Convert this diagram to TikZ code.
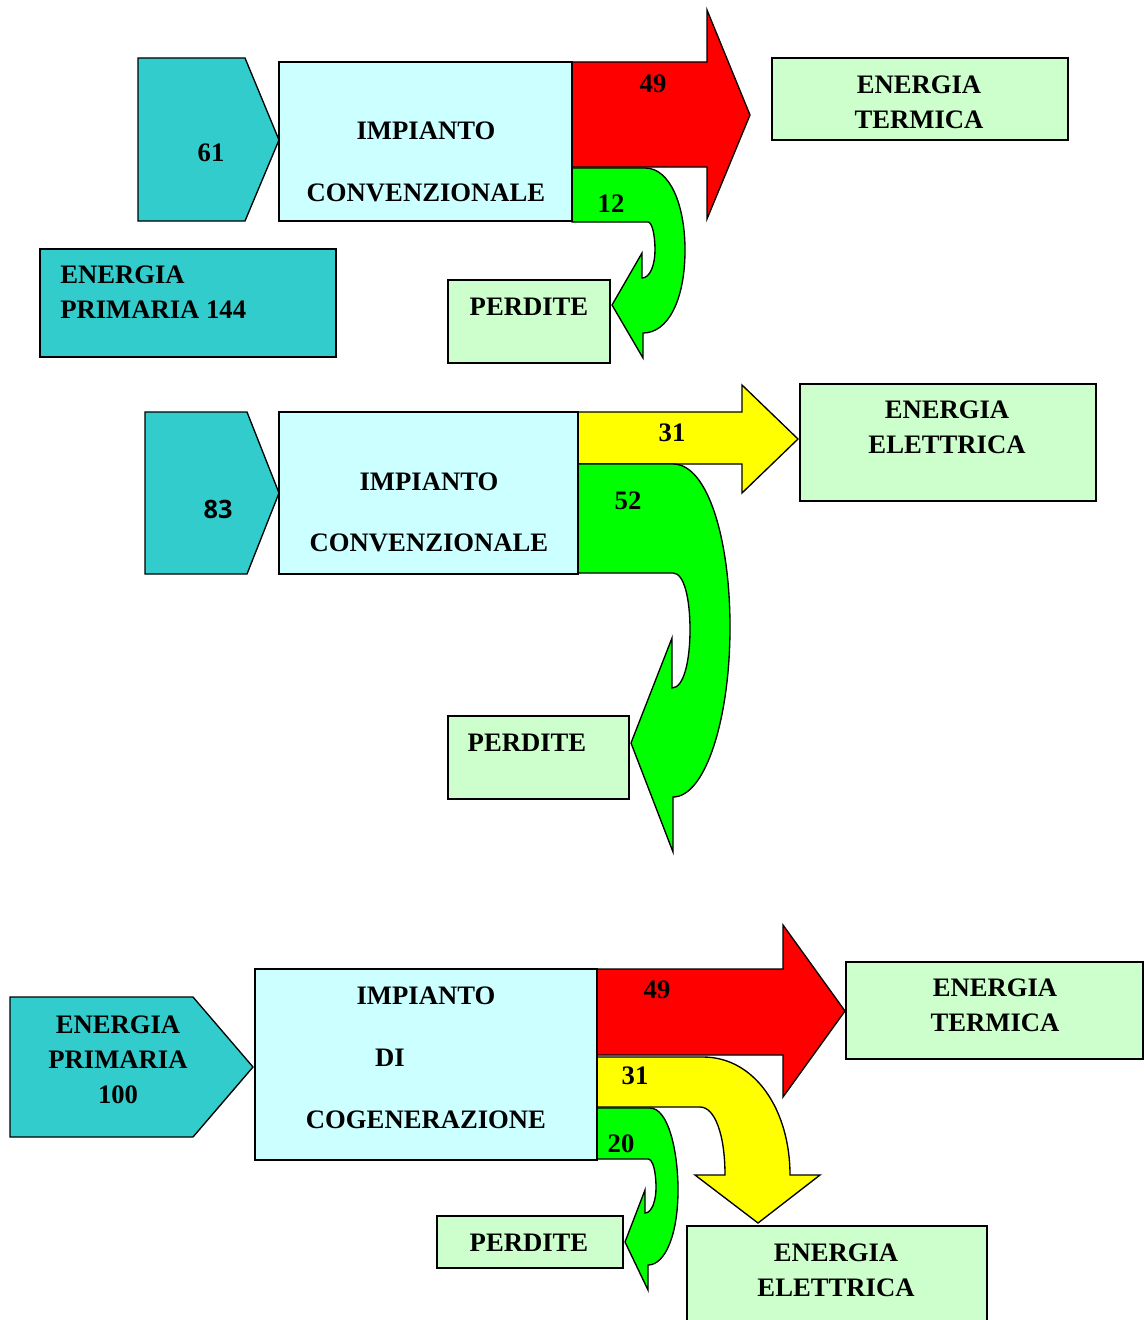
\documentclass[tikz,border=0pt]{standalone}
\usepackage{fontspec}
\setmainfont{Liberation Serif}
\newfontfamily\sansbold{Open Sans}
\definecolor{tealA}{HTML}{33CCCC}
\definecolor{cyanA}{HTML}{CCFFFF}
\definecolor{greenL}{HTML}{CCFFCC}
\definecolor{redA}{HTML}{FF0000}
\definecolor{yelA}{HTML}{FFFF00}
\definecolor{grnA}{HTML}{00FF00}
\begin{document}
\begin{tikzpicture}[x=0.75pt,y=-0.75pt,line join=miter,
  edge/.style={draw=black,line width=1pt},
  tealshape/.style={edge,fill=tealA},
  plant/.style={edge,fill=cyanA},
  outbox/.style={edge,fill=greenL},
  redflow/.style={edge,fill=redA},
  yelflow/.style={edge,fill=yelA},
  grnflow/.style={edge,fill=grnA},
  txt/.style={inner sep=0pt,font=\fontsize{20}{26.25}\selectfont\bfseries,align=center},
  txtl/.style={inner sep=0pt,font=\fontsize{20}{26.25}\selectfont\bfseries,align=left,anchor=west}]
\useasboundingbox (0,0) rectangle (1143,1320);

% ================= Section 1 =================
\draw[redflow] (572,62) -- (707,62) -- (707,10) -- (750,115) -- (707,219) -- (707,167) -- (572,167) -- cycle;
\draw[grnflow] (572,168) -- (645,168) .. controls (670,168) and (685,205) .. (685,250)
   .. controls (685,300) and (668,333) .. (643,333) -- (643,358) -- (612,305) -- (642,253) -- (642,278)
   .. controls (650,278) and (655,265) .. (655,250) .. controls (655,235) and (652,222) .. (648,222) -- (572,222) -- cycle;
\draw[tealshape] (138,58) -- (245,58) -- (279,140) -- (245,221) -- (138,221) -- cycle;
\draw[plant] (279,62) rectangle (572,221);
\draw[tealshape] (40,249) rectangle (336,357);
\draw[outbox] (772,58) rectangle (1068,140);
\draw[outbox] (448,280) rectangle (610,363);

\node[txt] (in1) at (211,153) {61};
\node[txt] (p1a) at (426,131) {IMPIANTO};
\node[txt] (p1b) at (426,193) {CONVENZIONALE};
\node[txtl] (ep1) at (60,292.5) {ENERGIA\\PRIMARIA 144};
\node[txt] (et1) at (919,102.5) {ENERGIA\\TERMICA};
\node[txt] (pd1) at (529,307) {PERDITE};
\node[txt] (v49a) at (653,84) {49};
\node[txt] (v12) at (611,204) {12};

% ================= Section 2 =================
\draw[yelflow] (578,412) -- (742,412) -- (742,385) -- (798,439) -- (742,493) -- (742,464) -- (578,464) -- cycle;
\draw[grnflow] (578,464) -- (673,464) .. controls (708,464) and (730,540) .. (730,627)
   .. controls (730,720) and (705,797) .. (673,797) -- (673,852) -- (631,743) -- (672,638) -- (672,688)
   .. controls (684,688) and (690,660) .. (690,630) .. controls (690,598) and (684,573) .. (673,573) -- (578,573) -- cycle;
\draw[tealshape] (145,412) -- (247,412) -- (279,493) -- (247,574) -- (145,574) -- cycle;
\draw[plant] (279,412) rectangle (578,574);
\draw[outbox] (800,384) rectangle (1096,501);
\draw[outbox] (448,716) rectangle (629,799);

\node[inner sep=0pt,font=\sansbold\fontsize{19}{23}\selectfont\bfseries] (in2) at (218,509) {83};
\node[txt] (p2a) at (429,482) {IMPIANTO};
\node[txt] (p2b) at (429,543) {CONVENZIONALE};
\node[txt] (ee2) at (947,427.5) {ENERGIA\\ELETTRICA};
\node[txt] (pd2) at (527,743) {PERDITE};
\node[txt] (v31a) at (672,433) {31};
\node[txt] (v52) at (628,501) {52};

% ================= Section 3 =================
\draw[redflow] (597,969) -- (783,969) -- (783,925) -- (845,1011) -- (783,1097) -- (783,1055) -- (597,1055) -- cycle;
\draw[yelflow] (597,1057) -- (703,1057) .. controls (755,1057) and (790,1110) .. (790,1175) -- (820,1175) -- (758,1223) -- (695,1175) -- (725,1175)
   .. controls (725,1135) and (715,1107) .. (700,1107) -- (597,1107) -- cycle;
\draw[grnflow] (597,1108) -- (650,1108) .. controls (668,1108) and (678,1150) .. (678,1190)
   .. controls (678,1235) and (665,1265) .. (648,1265) -- (648,1290) -- (625,1242) -- (645,1190) -- (645,1213)
   .. controls (652,1213) and (656,1200) .. (656,1188) .. controls (656,1172) and (653,1159) .. (648,1159) -- (597,1159) -- cycle;
\draw[tealshape] (10,997) -- (193,997) -- (253,1067) -- (193,1137) -- (10,1137) -- cycle;
\draw[plant] (255,969) rectangle (597,1160);
\draw[outbox] (846,962) rectangle (1143,1059);
\draw[outbox] (437,1216) rectangle (623,1268);
\draw[outbox] (687,1226) rectangle (987,1325);

\node[txt] (ep3) at (118,1059.5) {ENERGIA\\PRIMARIA\\100};
\node[txt] (p3a) at (426,996) {IMPIANTO};
\node[txt] (p3b) at (390,1058) {DI};
\node[txt] (p3c) at (426,1120) {COGENERAZIONE};
\node[txt] (et3) at (995,1005.5) {ENERGIA\\TERMICA};
\node[txt] (ee3) at (836,1270.5) {ENERGIA\\ELETTRICA};
\node[txt] (pd3) at (529,1243) {PERDITE};
\node[txt] (v49b) at (657,990) {49};
\node[txt] (v31b) at (635,1076) {31};
\node[txt] (v20) at (621,1144) {20};
\end{tikzpicture}
\end{document}
